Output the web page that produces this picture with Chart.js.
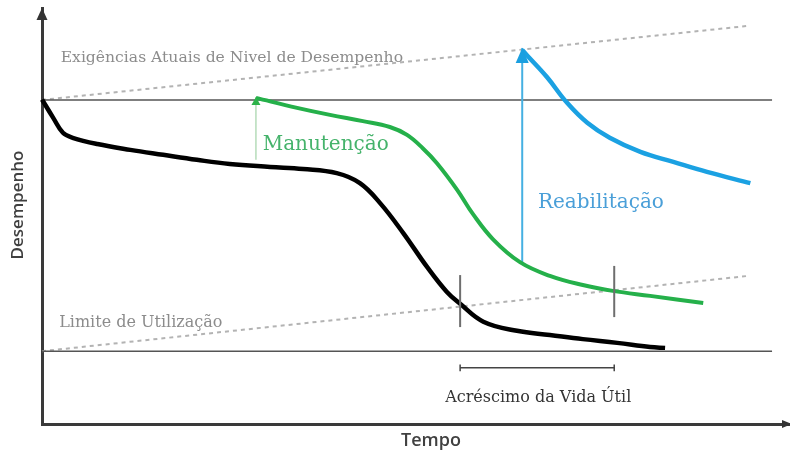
<!DOCTYPE html>
<html lang="pt">
<head>
<meta charset="utf-8">
<title>Desempenho x Tempo</title>
<script src="https://cdn.jsdelivr.net/npm/chart.js@4.4.1/dist/chart.umd.min.js"></script>
<style>
  html, body { margin: 0; padding: 0; background: #fff; }
  #wrap { width: 790px; height: 453px; position: relative; }
</style>
</head>
<body>
<div id="wrap"><canvas id="grafico"></canvas></div>
<script>
// --- DADOS (tempo e desempenho em unidades arbitrárias, 0-100) ---
const semManutTempo = [0, 1.5, 2.8, 4.1, 7.4, 11.8, 16.2, 20.7, 25.1, 30.5, 34.9, 39.4, 42.5, 45.2, 48.3, 51.5, 54.1, 55.9, 59.0, 63.5, 67.9, 72.3, 76.9, 81.3, 83.3];
const semManutDesemp = [78.0, 73.6, 70.0, 68.8, 67.3, 65.9, 64.7, 63.5, 62.5, 61.8, 61.3, 60.3, 57.9, 53.1, 45.9, 37.7, 31.8, 28.9, 24.6, 22.4, 21.4, 20.4, 19.5, 18.5, 18.3];

const manutTempo = [28.6, 34.1, 38.5, 42.9, 46.5, 48.8, 50.9, 52.8, 55.5, 57.6, 60.3, 63.9, 67.9, 72.3, 76.3, 81.3, 88.4];
const manutDesemp = [78.4, 76.0, 74.3, 72.8, 71.4, 69.5, 66.3, 62.7, 56.3, 50.5, 44.4, 38.9, 35.6, 33.4, 32.0, 30.8, 29.1];

const reabTempo = [64.2, 64.8, 67.5, 70.2, 72.9, 75.9, 80.0, 84.4, 88.9, 94.7];
const reabDesemp = [89.9, 88.7, 83.4, 77.2, 72.4, 68.8, 65.4, 63.0, 60.6, 57.9];

const exigenciasTempo = [0, 94.4];
const exigenciasDesemp = [77.9, 95.7];
const limiteTempo = [0, 94.4];
const limiteDesemp = [17.5, 35.6];

const nivelInicialTempo = [0, 97.6];
const nivelInicialDesemp = [77.9, 77.9];
const nivelMinimoTempo = [0, 97.6];
const nivelMinimoDesemp = [17.5, 17.5];

// intervenções (setas verticais)
const setaManutTempo = [28.6, 28.6];
const setaManutDesemp = [63.5, 78.6];
const setaReabTempo = [64.2, 64.2];
const setaReabDesemp = [38.7, 90.4];

// acréscimo da vida útil
const marcaInicioTempo = [55.9, 55.9];
const marcaInicioDesemp = [23.3, 35.8];
const marcaFimTempo = [76.5, 76.5];
const marcaFimDesemp = [25.7, 38.0];
const vidaUtilTempo = [55.9, 55.9, 55.9, 76.5, 76.5, 76.5];
const vidaUtilDesemp = [14.3, 12.7, 13.5, 13.5, 14.3, 12.7];

const toPts = (xs, ys) => xs.map((v, i) => ({ x: v, y: ys[i] }));

// --- TEXTOS ---
const notas = [
    { text: 'Exigências Atuais de Nivel de Desempenho', x: 2.5, y: 87.0, color: '#8c8c8c', font: '15.6px "DejaVu Serif"' },
    { text: 'Limite de Utilização', x: 2.3, y: 23.3, color: '#8c8c8c', font: '16px "DejaVu Serif"' },
    { text: 'Manutenção', x: 29.5, y: 65.9, color: '#45b36b', font: '20px "DejaVu Serif"' },
    { text: 'Reabilitação', x: 66.3, y: 51.9, color: '#4a9fd8', font: '20px "DejaVu Serif"' },
    { text: 'Acréscimo da Vida Útil', x: 53.9, y: 5.3, color: '#333333', font: '16px "DejaVu Serif"' }
];
const tituloX = 'Tempo';
const tituloY = 'Desempenho';

const line = (pts, color, width, extra) => Object.assign({
    data: pts,
    borderColor: color,
    borderWidth: width,
    pointRadius: 0,
    fill: false,
    tension: 0,
    clip: false
}, extra || {});

const decor = {
    id: 'decor',
    afterDatasetsDraw(chart) {
        const { ctx, chartArea: a, scales: { x, y } } = chart;
        ctx.save();

        // setas dos eixos
        ctx.fillStyle = '#333';
        ctx.beginPath();
        ctx.moveTo(a.left, a.top);
        ctx.lineTo(a.left - 5.5, a.top + 12);
        ctx.lineTo(a.left + 5.5, a.top + 12);
        ctx.closePath();
        ctx.fill();
        ctx.beginPath();
        ctx.moveTo(a.right + 2, a.bottom);
        ctx.lineTo(a.right - 8, a.bottom - 4);
        ctx.lineTo(a.right - 8, a.bottom + 4);
        ctx.closePath();
        ctx.fill();

        // pontas das setas de intervenção
        chart.data.datasets.forEach((ds, i) => {
            if (!ds.arrowHead) return;
            const pts = chart.getDatasetMeta(i).data;
            const tip = pts[pts.length - 1];
            const prev = pts[pts.length - 2];
            const ang = Math.atan2(tip.y - prev.y, tip.x - prev.x);
            const L = ds.arrowHead.len, W = ds.arrowHead.width / 2;
            const bx = tip.x - L * Math.cos(ang), by = tip.y - L * Math.sin(ang);
            ctx.fillStyle = ds.arrowHead.color;
            ctx.beginPath();
            ctx.moveTo(tip.x, tip.y);
            ctx.lineTo(bx + W * Math.sin(ang), by - W * Math.cos(ang));
            ctx.lineTo(bx - W * Math.sin(ang), by + W * Math.cos(ang));
            ctx.closePath();
            ctx.fill();
        });

        // textos
        ctx.textBaseline = 'alphabetic';
        ctx.textAlign = 'left';
        notas.forEach(n => {
            ctx.font = n.font;
            ctx.fillStyle = n.color;
            ctx.fillText(n.text, x.getPixelForValue(n.x), y.getPixelForValue(n.y));
        });

        // títulos dos eixos
        ctx.fillStyle = '#404040';
        ctx.textAlign = 'center';
        ctx.textBaseline = 'middle';
        ctx.font = '600 18px "Open Sans"';
        ctx.fillText(tituloX, 431, 441);
        ctx.translate(18, 205);
        ctx.rotate(-Math.PI / 2);
        ctx.font = '600 17px "Open Sans"';
        ctx.fillText(tituloY, 0, 0);
        ctx.restore();
    }
};

new Chart(document.getElementById('grafico'), {
    type: 'line',
    data: {
        datasets: [
            line(toPts(exigenciasTempo, exigenciasDesemp), '#b3b3b3', 2, { borderDash: [4, 4], order: 9 }),
            line(toPts(limiteTempo, limiteDesemp), '#b3b3b3', 2, { borderDash: [4, 4], order: 9 }),
            line(toPts(nivelInicialTempo, nivelInicialDesemp), '#555555', 1.5, { order: 8 }),
            line(toPts(nivelMinimoTempo, nivelMinimoDesemp), '#555555', 1.5, { order: 8 }),
            line(toPts(setaManutTempo, setaManutDesemp), '#b5dcb9', 1.5, { order: 7, arrowHead: { color: '#2db34a', len: 8, width: 9 } }),
            line(toPts(setaReabTempo, setaReabDesemp), '#45b0e2', 2, { order: 7, arrowHead: { color: '#1a9fe0', len: 15, width: 13 } }),
            line(toPts(semManutTempo, semManutDesemp), '#000000', 4.5, { tension: 0.4, order: 5 }),
            line(toPts(manutTempo, manutDesemp), '#25b04a', 4, { tension: 0.4, order: 4 }),
            line(toPts(reabTempo, reabDesemp), '#1ba1e2', 4.5, { tension: 0.4, order: 3 }),
            line(toPts(marcaInicioTempo, marcaInicioDesemp), '#6e6e6e', 2, { order: 2 }),
            line(toPts(marcaFimTempo, marcaFimDesemp), '#6e6e6e', 2, { order: 2 }),
            line(toPts(vidaUtilTempo, vidaUtilDesemp), '#444444', 1.5, { order: 2 })
        ]
    },
    options: {
        responsive: true,
        maintainAspectRatio: false,
        animation: false,
        events: [],
        layout: { padding: { top: 8, right: 0, bottom: 29, left: 42 } },
        plugins: {
            legend: { display: false },
            tooltip: { enabled: false }
        },
        scales: {
            x: {
                type: 'linear',
                min: 0,
                max: 100,
                grid: { display: false, drawTicks: false },
                ticks: { display: false },
                border: { display: true, color: '#3a3a3a', width: 3 }
            },
            y: {
                min: 0,
                max: 100,
                grid: { display: false, drawTicks: false },
                ticks: { display: false },
                border: { display: true, color: '#3a3a3a', width: 3 }
            }
        }
    },
    plugins: [decor]
});
</script>
</body>
</html>
